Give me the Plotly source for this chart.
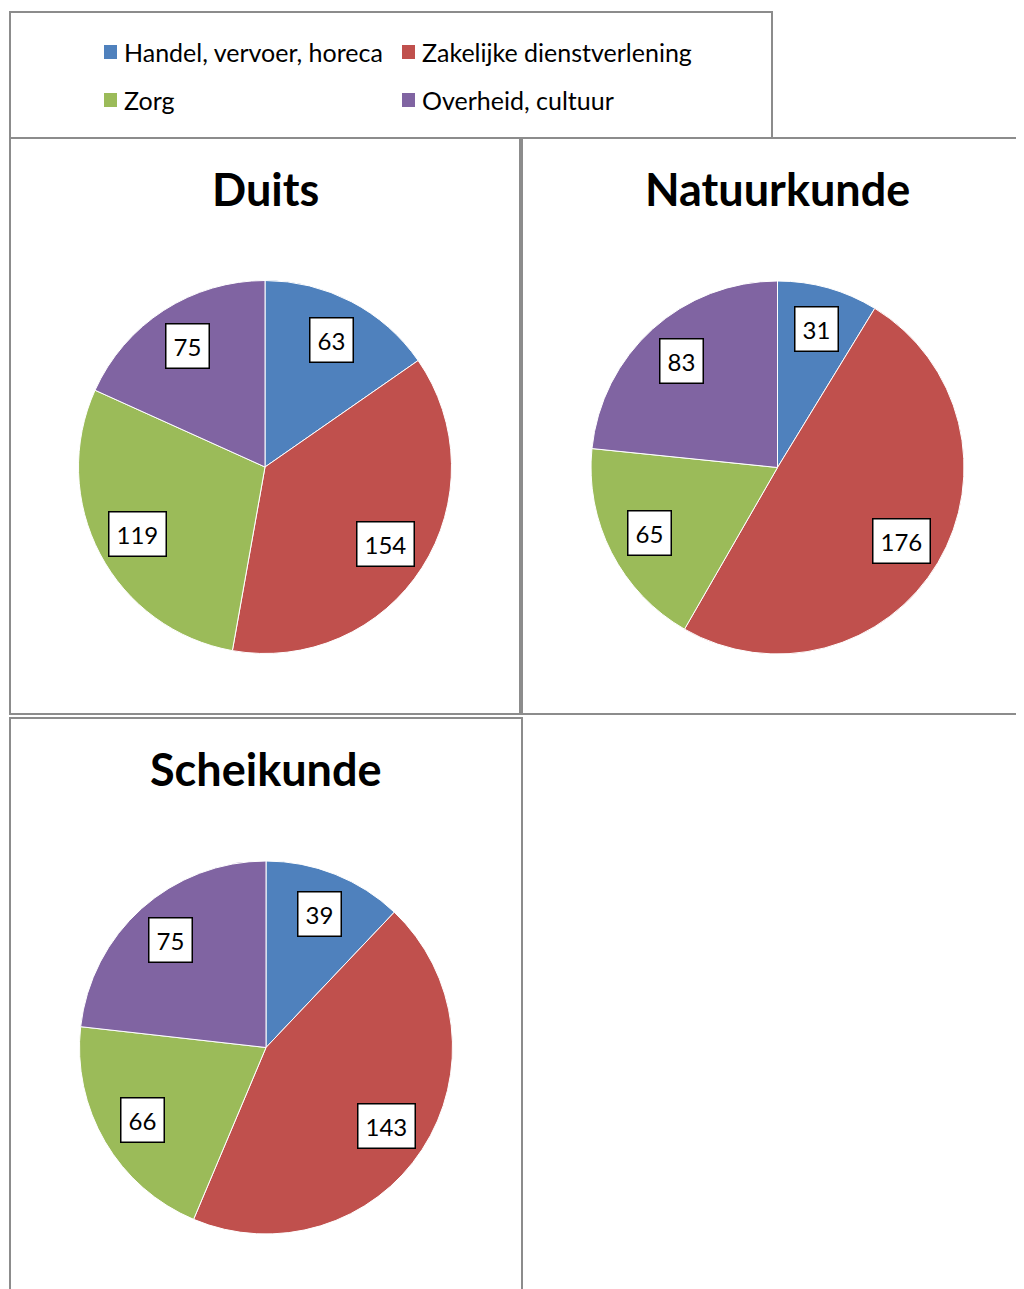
import math
import plotly.graph_objects as go

categories = ["Handel, vervoer, horeca", "Zakelijke dienstverlening", "Zorg", "Overheid, cultuur"]
colors = ["#4F81BD", "#C0504D", "#9BBB59", "#8064A2"]

duits = [63, 154, 119, 75]
natuurkunde = [31, 176, 65, 83]
scheikunde = [39, 143, 66, 75]

titles = ["Duits", "Natuurkunde", "Scheikunde"]
series = [duits, natuurkunde, scheikunde]

OFF = 8  # page body margin
W, H = 1024 - OFF, 1289 - OFF
FONT = "Lato"

# pie centres and radius in page pixels (layout)
centres = [(265, 467), (777.5, 467.5), (266, 1047.5)]
R = 186.5
title_y = [189, 189, 769]
LABEL_FR = 0.77

def px(x):
    return (x - OFF) / W

def py(y):
    return 1 - (y - OFF) / H

fig = go.Figure()
annotations = []
shapes = []

for name, vals, (cx, cy), ty in zip(titles, series, centres, title_y):
    fig.add_trace(go.Pie(
        labels=categories, values=vals, sort=False, direction="clockwise", rotation=0,
        marker=dict(colors=colors, line=dict(color="white", width=1)),
        textinfo="none", hoverinfo="label+value", showlegend=False,
        domain=dict(x=[px(cx - R), px(cx + R)], y=[py(cy + R), py(cy - R)]),
    ))
    total = sum(vals)
    cum = 0
    for v in vals:
        mid = (cum + v / 2) / total * 2 * math.pi
        cum += v
        lx = cx + LABEL_FR * R * math.sin(mid)
        ly = cy - LABEL_FR * R * math.cos(mid)
        annotations.append(dict(
            x=px(lx), y=py(ly), xref="paper", yref="paper", text=str(v), showarrow=False,
            font=dict(family=FONT, size=24, color="black"),
            bgcolor="white", bordercolor="black", borderwidth=1.5, borderpad=7,
            xanchor="center", yanchor="middle",
        ))
    annotations.append(dict(
        x=px(cx), y=py(ty), xref="paper", yref="paper", text="<b>%s</b>" % name,
        showarrow=False, font=dict(family=FONT, size=45, color="black"),
        xanchor="center", yanchor="middle",
    ))

# legend (manual, 2x2)
leg_pos = [(104, 52), (402, 52), (104, 100), (402, 100)]
for cat, col, (lx, ly) in zip(categories, colors, leg_pos):
    shapes.append(dict(type="rect", xref="paper", yref="paper",
                       x0=px(lx), x1=px(lx + 13), y0=py(ly + 7), y1=py(ly - 7),
                       fillcolor=col, line=dict(width=0)))
    annotations.append(dict(
        x=px(lx + 18), y=py(ly), xref="paper", yref="paper", text=cat, showarrow=False,
        font=dict(family=FONT, size=25, color="black"), xanchor="left", yanchor="middle",
    ))

# panel borders
for (x0, y0, x1, y1) in [(10, 12, 772, 138), (10, 138, 520, 714), (522, 138, 1030, 714), (10, 718, 522, 1295)]:
    shapes.append(dict(type="rect", xref="paper", yref="paper",
                       x0=px(x0), x1=px(x1), y0=py(y1), y1=py(y0),
                       line=dict(color="#8C8C8C", width=2), fillcolor="rgba(0,0,0,0)"))

fig.update_layout(
    width=W, height=H, margin=dict(l=0, r=0, t=0, b=0),
    paper_bgcolor="white", plot_bgcolor="white",
    annotations=annotations, shapes=shapes,
)

fig.write_html("out.html")
